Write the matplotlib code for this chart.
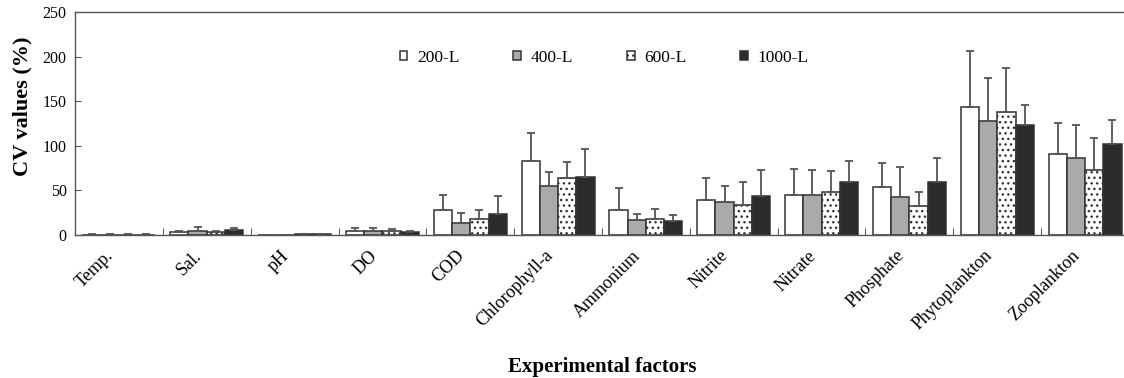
import matplotlib.pyplot as plt
import matplotlib.transforms as mtransforms
import numpy as np

plt.rcParams['font.family'] = ['Liberation Serif', 'DejaVu Serif']
plt.rcParams['hatch.color'] = '#666666'
plt.rcParams['hatch.linewidth'] = 1.0

factors = ['Temp.', 'Sal.', 'pH', 'DO', 'COD', 'Chlorophyll-a', 'Ammonium',
           'Nitrite', 'Nitrate', 'Phosphate', 'Phytoplankton', 'Zooplankton']
volumes = ['200-L', '400-L', '600-L', '1000-L']

# CV values (%) per volume, and upper error
cv_200 = [0.4, 3.4, 0.3, 4.5, 27.8, 82.6, 28.5, 38.7, 44.7, 53.3, 143.4, 90.5]
cv_400 = [0.4, 4.5, 0.3, 4.5, 13.0, 54.4, 16.5, 36.8, 45.4, 42.4, 127.3, 86.7]
cv_600 = [0.5, 3.7, 0.6, 5.0, 17.6, 63.4, 18.4, 33.4, 47.7, 33.0, 137.4, 73.2]
cv_1000 = [0.5, 5.6, 1.0, 3.4, 23.3, 65.3, 15.8, 43.5, 58.9, 58.9, 123.5, 101.7]

err_200 = [0.2, 1.5, 0.2, 3.7, 17.2, 31.9, 24.0, 24.7, 29.6, 27.0, 62.6, 34.5]
err_400 = [0.2, 4.1, 0.2, 3.0, 12.0, 16.6, 6.8, 17.6, 27.8, 33.8, 48.7, 36.8]
err_600 = [0.2, 0.8, 0.3, 1.3, 10.2, 18.1, 10.9, 25.9, 23.6, 14.7, 49.6, 35.2]
err_1000 = [0.2, 1.9, 0.4, 1.5, 20.2, 31.2, 6.7, 29.7, 24.4, 27.4, 21.8, 26.7]

values = [cv_200, cv_400, cv_600, cv_1000]
errors = [err_200, err_400, err_600, err_1000]
colors = ['white', '#aaaaaa', 'white', '#2b2b2b']
hatches = [None, None, '...', None]

fig = plt.figure(figsize=(11.24, 3.78), dpi=100)
ax = fig.add_axes([75 / 1124, 143 / 378, 1054 / 1124, 223 / 378])

x = np.arange(len(factors))
w = 0.208
for i in range(4):
    ax.bar(x + (i - 1.5) * w, values[i], w, color=colors[i], hatch=hatches[i],
           edgecolor='#333333', linewidth=1.1, label=volumes[i],
           yerr=[np.zeros(len(factors)), errors[i]],
           error_kw=dict(ecolor='#555555', elinewidth=1.3, capsize=3, capthick=1.3))

ax.set_xlim(-0.5, len(factors) - 0.5)
ax.set_ylim(0, 250)
ax.set_yticks([0, 50, 100, 150, 200, 250])
ax.tick_params(axis='y', labelsize=11.5, direction='in', length=4, pad=6, color='#555555')

ax.set_xticks(x)
ax.set_xticklabels(factors, rotation=45, ha='right', va='center',
                   rotation_mode='anchor', fontsize=13)
ax.set_xticks(np.arange(len(factors) - 1) + 0.5, minor=True)
ax.tick_params(axis='x', which='major', length=0, pad=13)
ax.tick_params(axis='x', which='minor', direction='in', length=5, color='#333333')
shift = mtransforms.ScaledTranslation(-8 / 100, 0, fig.dpi_scale_trans)
for lab in ax.get_xticklabels():
    lab.set_transform(lab.get_transform() + shift)

for s in ax.spines.values():
    s.set_color('#555555')
    s.set_linewidth(1.0)

fig.text(22 / 1124, 1 - 106 / 378, 'CV values (%)', rotation=90, ha='center',
         va='center', fontsize=16, fontweight='bold')
fig.text(602 / 1124, 1 - 367 / 378, 'Experimental factors', ha='center', va='center',
         fontsize=15, fontweight='bold')

ax.legend(loc='center left', bbox_to_anchor=(0.308, 0.794), ncol=4, frameon=False,
          fontsize=12.5, handlelength=0.45, handleheight=0.45, handletextpad=0.55,
          columnspacing=3.1, borderpad=0, borderaxespad=0)

fig.savefig('out.png', dpi=100)
